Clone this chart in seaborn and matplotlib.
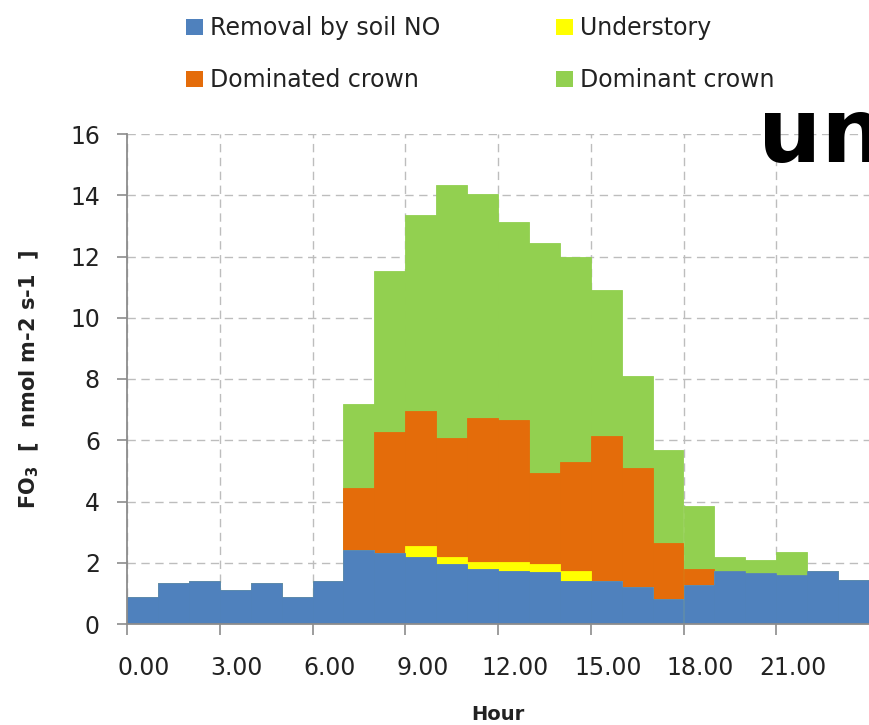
import matplotlib
matplotlib.use("Agg")
import matplotlib.pyplot as plt
from matplotlib.patches import Patch
from matplotlib.transforms import ScaledTranslation
import numpy as np
import pandas as pd
import seaborn as sns

# Hourly ozone flux components (nmol m-2 s-1), hour of day 0..23
hours = list(range(24))
soil_no = [0.89, 1.35, 1.42, 1.11, 1.35, 0.89, 1.42, 2.42, 2.33, 2.20, 1.96, 1.81,
           1.72, 1.70, 1.42, 1.42, 1.20, 0.83, 1.27, 1.73, 1.65, 1.59, 1.73, 1.44]
understory = [0, 0, 0, 0, 0, 0, 0, 0, 0, 0.36, 0.24, 0.23,
              0.32, 0.26, 0.30, 0, 0, 0, 0, 0, 0, 0, 0, 0]
dominated = [0, 0, 0, 0, 0, 0, 0, 2.03, 3.95, 4.41, 3.86, 4.70,
             4.62, 2.96, 3.58, 4.72, 3.88, 1.83, 0.54, 0, 0, 0, 0, 0]
dominant = [0, 0, 0, 0, 0, 0, 0, 2.75, 5.26, 6.39, 8.27, 7.29,
            6.47, 7.52, 6.69, 4.78, 3.03, 3.02, 2.05, 0.45, 0.45, 0.75, 0, 0]

series_names = ["Removal by soil NO", "Understory", "Dominated crown", "Dominant crown"]
series_colors = ["#4F81BD", "#FFFF00", "#E46C0A", "#92D050"]
xtick_hours = list(range(0, 24, 3))
xtick_labels = [f"{h}.00" for h in xtick_hours]
ytick_values = list(range(0, 17, 2))

df = pd.DataFrame({
    "hour": hours,
    series_names[0]: soil_no,
    series_names[1]: understory,
    series_names[2]: dominated,
    series_names[3]: dominant,
})
df["mid"] = df["hour"] + 0.5

sns.set_style("white")
plt.rcParams["font.family"] = ["DejaVu Sans"]

fig = plt.figure(figsize=(8.69, 7.25), dpi=100)
ax = fig.add_axes([127 / 869, 101 / 725, 742 / 869, 490 / 725])

# Stacked bars: draw cumulative tops from the highest layer down
cum = df[series_names].cumsum(axis=1)
for name, color in reversed(list(zip(series_names, series_colors))):
    sns.barplot(x=df["mid"], y=cum[name], native_scale=True, width=1,
                color=color, saturation=1, errorbar=None, linewidth=0.6,
                edgecolor=color, ax=ax)

ax.set_xlim(0, 24)
ax.set_ylim(0, 16)
ax.set_xticks(xtick_hours)
ax.set_xticklabels(xtick_labels)
ax.set_yticks(ytick_values)

ax.set_axisbelow(True)
ax.grid(True, linestyle=(0, (6, 4)), color="#bdbdbd", linewidth=1)

for side in ("top", "right"):
    ax.spines[side].set_visible(False)
for side in ("left", "bottom"):
    ax.spines[side].set_color("#8c8c8c")
    ax.spines[side].set_linewidth(1.3)

ax.tick_params(axis="x", length=8, width=1.2, color="#8c8c8c", pad=15,
               labelsize=17, labelcolor="#222222", bottom=True)
ax.tick_params(axis="y", length=7, width=1.2, color="#8c8c8c", pad=12.5,
               labelsize=17, labelcolor="#222222", left=True)

# hour labels sit a little to the right of their tick marks
shift = ScaledTranslation(17 / 100, 0, fig.dpi_scale_trans)
for lab in ax.get_xticklabels():
    lab.set_transform(lab.get_transform() + shift)

ax.set_xlabel("Hour", fontsize=14, fontweight="bold", color="#222222")
ax.xaxis.set_label_coords(0.5, -0.165)
ax.set_ylabel(r"FO$_\mathregular{3}$  [  nmol m-2 s-1  ]", fontsize=15,
              fontweight="bold", color="#222222")
ax.yaxis.set_label_coords(-0.116, 0.5)

handles = {n: Patch(facecolor=c, edgecolor="none") for n, c in zip(series_names, series_colors)}
leg_kw = dict(loc="upper left", frameon=False, fontsize=17, handlelength=0.7,
              handleheight=0.68, handletextpad=0.3, labelspacing=1.2,
              borderpad=0, borderaxespad=0, labelcolor="#222222")
fig.legend([handles[series_names[0]], handles[series_names[2]]],
           [series_names[0], series_names[2]],
           bbox_to_anchor=(186 / 869, 1 - 16 / 725), **leg_kw)
fig.legend([handles[series_names[1]], handles[series_names[3]]],
           [series_names[1], series_names[3]],
           bbox_to_anchor=(556 / 869, 1 - 16 / 725), **leg_kw)

fig.text(758 / 869, 1 - 162 / 725, "unp", fontsize=64, fontweight="bold",
         family="DejaVu Sans", color="black", ha="left", va="baseline")

fig.savefig("out.png", dpi=100)
